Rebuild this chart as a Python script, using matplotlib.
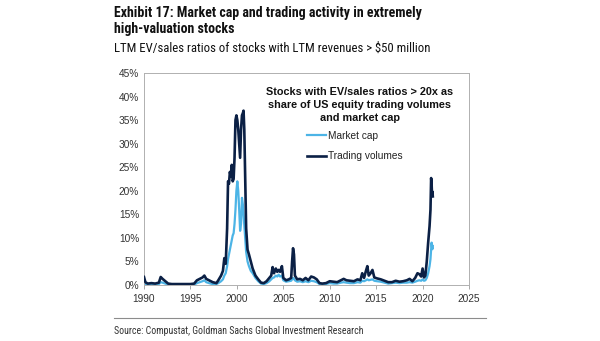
import matplotlib
matplotlib.use("Agg")
import matplotlib.pyplot as plt
from matplotlib import font_manager
from matplotlib.ticker import FuncFormatter, MultipleLocator

# decimal year of each observation
DATES = [
    1990.00, 1990.15, 1990.40, 1990.80, 1991.20, 1991.60, 1991.80, 1992.00,
    1992.30, 1992.60, 1993.00, 1993.50, 1994.00, 1994.50, 1995.00, 1995.40,
    1995.70, 1996.00, 1996.30, 1996.50, 1996.70, 1997.00, 1997.40, 1997.80,
    1998.00, 1998.30, 1998.50, 1998.65, 1998.80, 1998.95, 1999.05, 1999.15,
    1999.25, 1999.35, 1999.45, 1999.55, 1999.65, 1999.75, 1999.85, 1999.95,
    2000.05, 2000.15, 2000.25, 2000.35, 2000.45, 2000.55, 2000.65, 2000.72,
    2000.80, 2000.90, 2001.00, 2001.15, 2001.30, 2001.50, 2001.70, 2002.00,
    2002.30, 2002.60, 2002.90, 2003.20, 2003.50, 2003.70, 2003.85, 2004.00,
    2004.20, 2004.35, 2004.50, 2004.65, 2004.85, 2005.00, 2005.30, 2005.60,
    2005.85, 2005.95, 2006.05, 2006.15, 2006.25, 2006.50, 2006.80, 2007.10,
    2007.40, 2007.70, 2008.00, 2008.30, 2008.60, 2008.90, 2009.20, 2009.60,
    2010.00, 2010.40, 2010.80, 2011.20, 2011.50, 2011.80, 2012.20, 2012.60,
    2013.00, 2013.30, 2013.50, 2013.70, 2013.90, 2014.05, 2014.20, 2014.40,
    2014.60, 2014.80, 2015.10, 2015.50, 2015.90, 2016.30, 2016.70, 2017.10,
    2017.50, 2017.90, 2018.30, 2018.60, 2018.90, 2019.20, 2019.45, 2019.65,
    2019.85, 2020.00, 2020.15, 2020.30, 2020.45, 2020.60, 2020.75, 2020.85,
    2020.92, 2020.97, 2021.02, 2021.06, 2021.10,
]

# share of US equity trading volumes, %
TRADING = [
    1.7, 0.6, 0.3, 0.4, 0.3, 0.5, 1.7, 1.3,
    0.8, 0.3, 0.2, 0.2, 0.2, 0.2, 0.2, 0.3,
    1.0, 1.3, 1.6, 2.0, 1.3, 1.0, 0.6, 0.4,
    1.0, 2.0, 3.0, 5.7, 4.5, 12.0, 22.0, 21.5,
    24.0, 23.0, 25.5, 22.0, 22.5, 27.0, 35.0, 36.0,
    35.0, 33.0, 30.0, 27.0, 33.0, 36.0, 36.5, 37.0,
    33.0, 22.0, 12.0, 7.5, 6.5, 5.0, 3.5, 2.0,
    1.2, 0.5, 0.4, 0.8, 1.5, 2.0, 3.8, 2.5,
    3.5, 2.8, 3.2, 2.8, 4.0, 1.5, 1.0, 1.2,
    1.5, 5.0, 7.8, 6.5, 2.0, 1.2, 1.3, 1.0,
    1.5, 1.0, 1.8, 1.6, 1.2, 0.4, 0.3, 0.4,
    0.8, 0.7, 0.6, 1.0, 1.3, 1.0, 0.9, 0.8,
    1.2, 1.0, 2.5, 1.5, 3.0, 4.0, 2.0, 2.5,
    3.2, 1.6, 1.4, 1.2, 0.9, 0.6, 0.6, 0.9,
    0.7, 0.8, 1.0, 1.3, 0.8, 1.5, 2.5, 2.3,
    1.8, 3.5, 1.6, 2.0, 5.0, 9.0, 12.5, 16.0,
    22.7, 21.5, 19.0, 19.8, 18.8,
]

# share of US equity market cap, %
MARKET_CAP = [
    0.5, 0.2, 0.1, 0.1, 0.1, 0.2, 0.6, 0.5,
    0.3, 0.1, 0.05, 0.05, 0.05, 0.05, 0.05, 0.1,
    0.4, 0.6, 0.8, 1.0, 0.6, 0.4, 0.2, 0.2,
    0.4, 0.8, 1.2, 2.0, 2.5, 4.0, 5.5, 6.5,
    7.5, 8.5, 9.5, 10.5, 11.0, 13.0, 16.0, 20.0,
    22.0, 20.0, 16.0, 11.5, 13.0, 18.5, 17.0, 15.0,
    13.0, 10.0, 7.0, 5.0, 4.0, 3.0, 2.5, 1.5,
    0.8, 0.3, 0.2, 0.4, 0.8, 1.2, 1.5, 1.6,
    2.0, 1.8, 2.2, 1.8, 2.0, 1.0, 0.7, 0.8,
    0.9, 1.2, 1.5, 1.3, 1.0, 0.7, 0.8, 0.6,
    0.8, 0.6, 0.9, 0.8, 0.6, 0.2, 0.1, 0.2,
    0.4, 0.3, 0.3, 0.5, 0.6, 0.5, 0.4, 0.4,
    0.6, 0.5, 0.9, 0.8, 1.0, 1.2, 1.0, 1.1,
    1.2, 0.9, 0.8, 0.7, 0.5, 0.3, 0.4, 0.5,
    0.4, 0.5, 0.5, 0.6, 0.5, 0.7, 0.9, 1.0,
    0.9, 1.2, 0.9, 1.0, 1.5, 2.5, 4.0, 5.5,
    7.5, 9.0, 8.0, 7.6, 8.3,
]

NAVY = "#0b2045"
LIGHT = "#4cb4e6"
GREY_TXT = "#333333"


def pick(*names):
    have = {f.name for f in font_manager.fontManager.ttflist}
    for n in names:
        if n in have:
            return n
    return "DejaVu Sans"


SANS = pick("Liberation Sans", "Arial", "DejaVu Sans")
NARROW = pick("Liberation Sans Narrow", "Roboto Condensed", "DejaVu Sans")

plt.rcParams["font.family"] = SANS

fig = plt.figure(figsize=(6.0, 3.41), dpi=100)
ax = fig.add_axes([0.24, 0.1642, 0.5417, 0.6218])

ax.plot(DATES, MARKET_CAP, color=LIGHT, lw=1.6, label="Market cap", zorder=2)
ax.plot(DATES, TRADING, color=NAVY, lw=1.9, label="Trading volumes", zorder=3)

ax.set_xlim(1990, 2025)
ax.set_ylim(0, 45)
ax.xaxis.set_major_locator(MultipleLocator(5))
ax.yaxis.set_major_locator(MultipleLocator(5))
ax.yaxis.set_major_formatter(FuncFormatter(lambda v, p: f"{v:.0f}%"))
ax.tick_params(labelsize=7.3, colors=GREY_TXT, length=3, width=0.6, color="#9a9a9a")
ax.tick_params(axis="y", length=0)
for s in ax.spines.values():
    s.set_color("#b0b0b0")
    s.set_linewidth(0.7)

# legend block: bold centred caption plus the two series
fig.text(360 / 600, 1 - 87 / 341,
         "Stocks with EV/sales ratios > 20x as\nshare of US equity trading volumes\nand market cap",
         ha="center", va="top", fontsize=7.8, fontweight="bold", color="#111111",
         linespacing=1.4)
leg = ax.legend(loc="upper left", bbox_to_anchor=(307 / 600, 1 - 131 / 341),
                bbox_transform=fig.transFigure, frameon=False, fontsize=7.3,
                handlelength=1.9, handletextpad=0.15, labelspacing=1.0,
                borderaxespad=0, borderpad=0)
for t in leg.get_texts():
    t.set_color("#222222")

# title block
fig.text(114 / 600, 1 - 6 / 341, "Exhibit 17: Market cap and trading activity in extremely\nhigh-valuation stocks",
         ha="left", va="top", fontsize=10, fontweight="bold", family=NARROW,
         color="#111111", linespacing=1.15)
fig.text(114 / 600, 1 - 42 / 341, "LTM EV/sales ratios of stocks with LTM revenues > $50 million",
         ha="left", va="top", fontsize=9.2, family=NARROW, color="#111111")

# separator and source
fig.add_artist(plt.Line2D([114 / 600, 486 / 600], [1 - 318 / 341] * 2,
                          transform=fig.transFigure, color="#8c8c8c", lw=0.8))
fig.text(114 / 600, 1 - 326 / 341, "Source: Compustat, Goldman Sachs Global Investment Research",
         ha="left", va="top", fontsize=7.1, family=NARROW, color="#333333")

fig.savefig("out.png", dpi=100)
